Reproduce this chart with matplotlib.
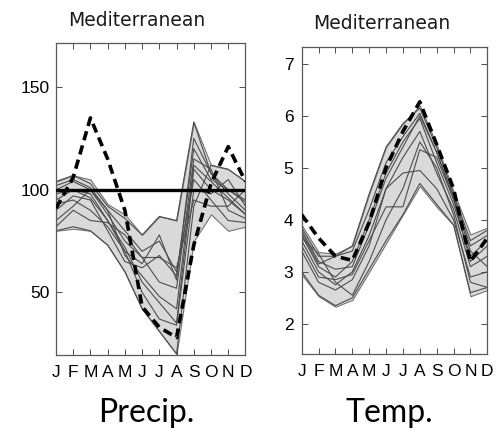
import matplotlib.pyplot as plt

months = ['J', 'F', 'M', 'A', 'M', 'J', 'J', 'A', 'S', 'O', 'N', 'D']
x = list(range(1, 13))

# Precipitation (% of reference)
precip_obs = [91, 106, 135, 115, 90, 43, 33, 28, 73, 103, 121, 104]
precip_upper = [104, 107, 105, 93, 88, 78, 87, 85, 133, 112, 110, 104]
precip_lower = [80, 81, 80, 73, 60, 42, 31, 20, 75, 88, 80, 82]
precip_members = [
    [104, 107, 103, 92, 86, 78, 87, 85, 133, 108, 98, 90],
    [80, 82, 80, 73, 60, 42, 31, 20, 92, 112, 110, 104],
    [95, 100, 98, 85, 72, 55, 45, 35, 110, 100, 95, 88],
    [90, 97, 95, 80, 65, 62, 68, 58, 120, 105, 100, 95],
    [100, 104, 100, 88, 75, 67, 55, 52, 115, 110, 90, 86],
    [85, 92, 100, 90, 80, 70, 75, 60, 105, 95, 85, 84],
    [98, 100, 96, 85, 70, 50, 37, 34, 100, 98, 105, 92],
    [82, 90, 85, 84, 78, 67, 67, 62, 95, 92, 92, 100],
    [102, 105, 101, 90, 68, 58, 48, 42, 112, 104, 96, 88],
    [93, 95, 90, 82, 70, 64, 78, 56, 125, 108, 100, 94],
]
precip_ref = 100

# Temperature
temp_obs = [4.1, 3.65, 3.3, 3.22, 3.95, 5.0, 5.7, 6.27, 5.45, 4.6, 3.2, 3.65]
temp_upper = [3.9, 3.38, 3.35, 3.5, 4.5, 5.4, 5.85, 6.2, 5.45, 4.55, 3.72, 3.85]
temp_lower = [2.95, 2.53, 2.33, 2.46, 3.0, 3.55, 4.1, 4.65, 4.25, 3.9, 2.53, 2.65]
temp_members = [
    [3.85, 3.3, 3.3, 3.5, 4.5, 5.4, 5.85, 6.15, 5.4, 4.5, 3.6, 3.8],
    [3.7, 3.1, 2.9, 3.2, 4.0, 4.9, 5.5, 5.95, 5.1, 4.3, 3.3, 3.6],
    [3.6, 3.0, 2.75, 3.0, 3.7, 4.6, 5.2, 5.7, 4.9, 4.2, 3.1, 3.3],
    [3.5, 2.9, 2.85, 2.95, 3.6, 4.25, 4.25, 5.35, 5.2, 4.4, 3.4, 3.1],
    [3.4, 2.8, 2.65, 2.85, 3.5, 4.6, 4.9, 4.95, 4.6, 4.0, 2.9, 3.0],
    [3.0, 2.55, 2.35, 2.5, 3.05, 3.6, 4.1, 4.7, 4.3, 3.9, 2.6, 2.7],
    [3.8, 3.2, 3.05, 3.1, 3.9, 4.8, 5.4, 6.0, 5.3, 4.4, 3.2, 3.5],
    [3.65, 3.35, 2.8, 2.55, 3.2, 4.0, 4.6, 5.5, 5.0, 4.1, 2.8, 2.7],
    [3.75, 3.15, 3.3, 3.4, 4.2, 5.1, 5.6, 6.05, 5.3, 4.45, 3.5, 3.7],
]

plt.rcParams['font.family'] = ['Liberation Sans', 'DejaVu Sans']

fig = plt.figure(figsize=(4.98, 4.36), dpi=100)
ax1 = fig.add_axes([0.1124, 0.1858, 0.3805, 0.7156])
ax2 = fig.add_axes([0.6058, 0.1881, 0.3727, 0.7048])


def draw_panel(ax, upper, lower, members, obs, ylim, yticks, ypad):
    ax.fill_between(x, lower, upper, color='#d9d9d9', lw=0.8, edgecolor='0.45', zorder=1)
    for m in members:
        ax.plot(x, m, color='0.3', lw=0.8, zorder=2)
    ax.plot(x, obs, color='black', lw=2.6, dashes=(2.6, 1.5), zorder=4)
    ax.set_xlim(1, 12)
    ax.set_ylim(*ylim)
    ax.set_xticks(x)
    ax.set_xticklabels(months)
    ax.set_yticks(yticks)
    ax.tick_params(direction='in', top=True, right=True, length=4, width=0.7,
                   color='0.3', labelsize=12.5)
    ax.tick_params(axis='x', pad=7)
    ax.tick_params(axis='y', pad=ypad)
    for s in ax.spines.values():
        s.set_color('0.35')
        s.set_linewidth(0.9)


draw_panel(ax1, precip_upper, precip_lower, precip_members, precip_obs,
           (19.5, 171.5), [50, 100, 150], 4.5)
ax1.axhline(precip_ref, color='black', lw=2.4, zorder=3)

draw_panel(ax2, temp_upper, temp_lower, temp_members, temp_obs,
           (1.42, 7.33), [2, 3, 4, 5, 6, 7], 6)

fig.text(0.275, 0.954, 'Mediterranean', ha='center', va='center',
         fontsize=13.5, family='DejaVu Sans', color='0.1')
fig.text(0.766, 0.946, 'Mediterranean', ha='center', va='center',
         fontsize=13.5, family='DejaVu Sans', color='0.1')

fig.text(0.293, 0.052, 'Precip.', ha='center', va='center', fontsize=23, family='Lato')
fig.text(0.781, 0.052, 'Temp.', ha='center', va='center', fontsize=23, family='Lato')

plt.savefig('out.png', dpi=100)
